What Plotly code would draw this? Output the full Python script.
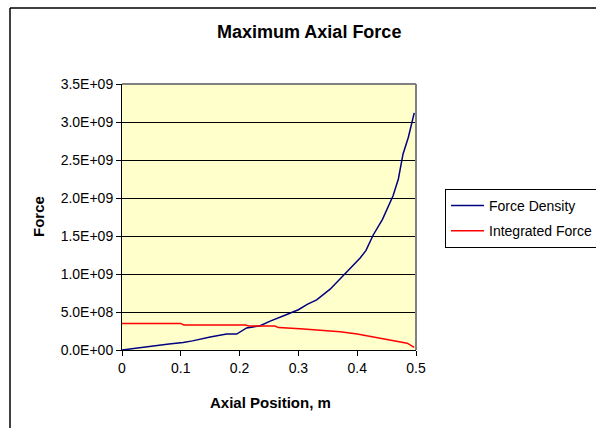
import plotly.graph_objects as go

# Force Density (N/m)
density_x = [0, 0.02, 0.036, 0.05, 0.065, 0.08, 0.104, 0.12, 0.15, 0.178, 0.195, 0.212,
             0.235, 0.252, 0.275, 0.30, 0.315, 0.331, 0.354, 0.379, 0.405, 0.415, 0.427,
             0.443, 0.461, 0.470, 0.478, 0.487, 0.497]
density_y = [0, 0.02e9, 0.044e9, 0.05e9, 0.066e9, 0.08e9, 0.10e9, 0.12e9, 0.17e9, 0.21e9,
             0.21e9, 0.29e9, 0.32e9, 0.38e9, 0.45e9, 0.53e9, 0.60e9, 0.66e9, 0.80e9, 1.00e9,
             1.21e9, 1.31e9, 1.51e9, 1.72e9, 2.03e9, 2.25e9, 2.58e9, 2.80e9, 3.12e9]

# Integrated Force
integ_x = [0, 0.10, 0.105, 0.21, 0.215, 0.26, 0.266, 0.30, 0.303, 0.337, 0.371, 0.40,
           0.427, 0.456, 0.485, 0.497]
integ_y = [0.35e9, 0.35e9, 0.33e9, 0.33e9, 0.315e9, 0.315e9, 0.295e9, 0.29e9, 0.28e9,
           0.26e9, 0.24e9, 0.21e9, 0.17e9, 0.13e9, 0.09e9, 0.035e9]

x_ticks = [0, 0.1, 0.2, 0.3, 0.4, 0.5]
x_tick_labels = ["0", "0.1", "0.2", "0.3", "0.4", "0.5"]
y_ticks = [0, 0.5e9, 1.0e9, 1.5e9, 2.0e9, 2.5e9, 3.0e9, 3.5e9]
y_tick_labels = ["0.0E+00", "5.0E+08", "1.0E+09", "1.5E+09", "2.0E+09", "2.5E+09",
                 "3.0E+09", "3.5E+09"]

FONT = "Liberation Sans, Arial, sans-serif"

fig = go.Figure()
fig.add_trace(go.Scatter(x=density_x, y=density_y, mode="lines", name="Force Density",
                         legendgroup="a",
                         line=dict(color="#000080", width=1.5)))
fig.add_trace(go.Scatter(x=integ_x, y=integ_y, mode="lines", name="Integrated Force",
                         legendgroup="b",
                         line=dict(color="#FF0000", width=1.5)))

L, R, T, B = 122, 416, 84, 350
W, H = 596, 428
pw, ph = R - L, B - T

def px(xp):
    return (xp - L) / pw

def py(yp):
    return (B - yp) / ph

fig.update_layout(
    width=W, height=H,
    margin=dict(l=L, r=W - R, t=T, b=H - B, pad=0, autoexpand=False),
    paper_bgcolor="white",
    plot_bgcolor="#FFFFCC",
    font=dict(family=FONT, size=14, color="black"),
    showlegend=True,
    legend=dict(x=px(445), xanchor="left", y=py(189), yanchor="top",
                bgcolor="white", bordercolor="black", borderwidth=1,
                font=dict(size=14, family=FONT), itemwidth=33,
                tracegroupgap=4),
    xaxis=dict(range=[0, 0.5], tickvals=x_ticks, ticktext=x_tick_labels,
               showgrid=False, zeroline=False, showline=True, linecolor="black",
               linewidth=1, ticks="outside", ticklen=5, tickcolor="black",
               tickfont=dict(size=14, family=FONT)),
    yaxis=dict(range=[0, 3.5e9], tickvals=y_ticks, ticktext=y_tick_labels,
               showgrid=True, gridcolor="black", gridwidth=1, zeroline=False,
               showline=True, linecolor="black", linewidth=1, ticks="outside",
               ticklen=5, tickcolor="black", tickfont=dict(size=14, family=FONT)),
    annotations=[
        dict(text="<b>Maximum Axial Force</b>", xref="paper", yref="paper",
             x=px(309), y=py(32), xanchor="center", yanchor="middle",
             showarrow=False, font=dict(size=18, family=FONT, color="black")),
        dict(text="<b>Axial Position, m</b>", xref="paper", yref="paper",
             x=px(270), y=py(402), xanchor="center", yanchor="middle",
             showarrow=False, font=dict(size=15, family=FONT, color="black")),
        dict(text="<b>Force</b>", xref="paper", yref="paper",
             x=px(38), y=py(217), xanchor="center", yanchor="middle",
             textangle=-90, showarrow=False,
             font=dict(size=15, family=FONT, color="black")),
    ],
    shapes=[
        # plot area border (top/right gray)
        dict(type="line", xref="paper", yref="paper", x0=0, x1=1, y0=1, y1=1,
             line=dict(color="#808080", width=2), layer="above"),
        dict(type="line", xref="paper", yref="paper", x0=1, x1=1, y0=0, y1=1,
             line=dict(color="#808080", width=2), layer="above"),
        # outer chart border
        dict(type="line", xref="paper", yref="paper", x0=px(10), x1=px(700),
             y0=py(8), y1=py(8), line=dict(color="black", width=1.5)),
        dict(type="line", xref="paper", yref="paper", x0=px(10), x1=px(10),
             y0=py(8), y1=py(500), line=dict(color="black", width=1.5)),
    ],
)

fig.write_html("out.html")
